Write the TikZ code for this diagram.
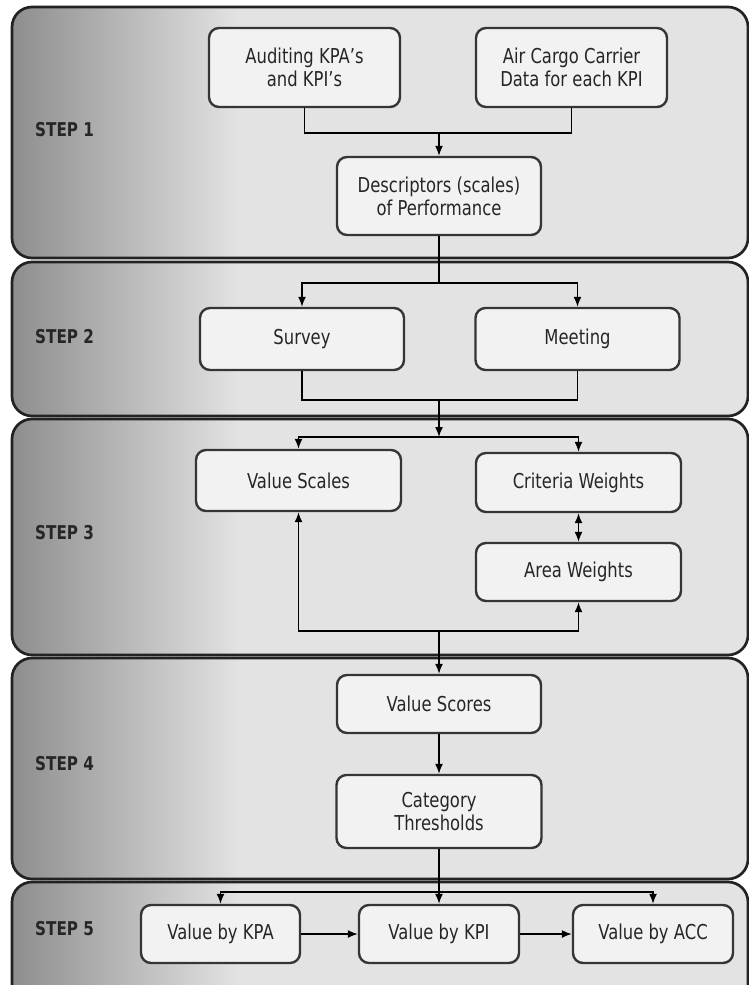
\documentclass[tikz,border=0pt]{standalone}
\usepackage{fontspec}
\setmainfont{DejaVu Sans}[FakeStretch=0.8]
\usetikzlibrary{arrows.meta}
\definecolor{bandfill}{HTML}{E3E3E3}
\definecolor{bandedge}{HTML}{8E8E8E}
\definecolor{boxfill}{HTML}{F2F2F2}
\definecolor{boxline}{HTML}{353535}
\definecolor{bandline}{HTML}{222222}
\definecolor{txt}{HTML}{262626}
\begin{document}
\begin{tikzpicture}[x=1pt,y=-1pt,
  stepbox/.style={draw=boxline, line width=2.4pt, fill=boxfill, rounded corners=10pt,
    align=center, text=txt, font=\fontsize{20.5}{23}\selectfont, inner sep=0pt},
  steplabel/.style={anchor=west, text=txt, font=\fontsize{19}{22}\selectfont\bfseries, inner sep=0pt},
  link/.style={line width=1.5pt, black},
  arr/.style={link, -{Latex[length=10pt,width=8pt]}},
  darr/.style={link, {Latex[length=10pt,width=8pt]}-{Latex[length=10pt,width=8pt]}}
]
\useasboundingbox (0,0) rectangle (749,985);
\clip (0,0) rectangle (749,985);

% horizontal step bands with a grey fade on their left side
\foreach \top/\bot in {7/258, 262/416, 419/655, 658/879, 882/1010}{
  \fill[bandfill, rounded corners=20pt] (12,\top) rectangle (748,\bot);
  \begin{scope}
    \clip[rounded corners=20pt] (12,\top) rectangle (748,\bot);
    \shade[left color=bandedge, right color=bandfill] (12,\top) rectangle (240,\bot);
  \end{scope}
  \draw[bandline, line width=2.7pt, rounded corners=20pt] (12,\top) rectangle (748,\bot);
}

% step labels
\node[steplabel] (s1) at (35,130) {STEP 1};
\node[steplabel] (s2) at (35,337) {STEP 2};
\node[steplabel] (s3) at (35,533) {STEP 3};
\node[steplabel] (s4) at (35,764) {STEP 4};
\node[steplabel] (s5) at (35,929) {STEP 5};

% step 1
\node[stepbox, minimum width=191pt, minimum height=79pt] (aud) at (304.5,67.5) {Auditing KPA’s\\and KPI’s};
\node[stepbox, minimum width=191pt, minimum height=79pt] (air) at (571.5,67.5) {Air Cargo Carrier\\Data for each KPI};
\node[stepbox, minimum width=204pt, minimum height=78pt] (desc) at (439,196) {Descriptors (scales)\\of Performance};

% step 2
\node[stepbox, minimum width=204pt, minimum height=62pt] (survey) at (302,339) {Survey};
\node[stepbox, minimum width=204pt, minimum height=62pt] (meeting) at (577.5,339) {Meeting};

% step 3
\node[stepbox, minimum width=205pt, minimum height=61pt] (vscales) at (298.5,480.5) {Value Scales};
\node[stepbox, minimum width=205pt, minimum height=59pt] (crit) at (578.5,482.5) {Criteria Weights};
\node[stepbox, minimum width=205pt, minimum height=58pt] (area) at (578.5,572) {Area Weights};

% step 4
\node[stepbox, minimum width=204pt, minimum height=58pt] (vscores) at (439,704) {Value Scores};
\node[stepbox, minimum width=205pt, minimum height=73pt] (cat) at (439,811.5) {Category\\Thresholds};

% step 5
\node[stepbox, minimum width=159pt, minimum height=58pt] (kpa) at (220.5,934) {Value by KPA};
\node[stepbox, minimum width=160pt, minimum height=58pt] (kpi) at (439,934) {Value by KPI};
\node[stepbox, minimum width=160pt, minimum height=58pt] (acc) at (653,934) {Value by ACC};

% junction points of the connectors
\coordinate (j1) at (439,133);
\coordinate (j2) at (439,283);
\coordinate (j3) at (439,400);
\coordinate (j4) at (439,437);
\coordinate (j5) at (439,631);
\coordinate (j6) at (439,892);

% connectors
\draw[link] (aud.south) |- (j1);
\draw[link] (air.south) |- (j1);
\draw[arr] (j1) -- (desc.north);

\draw[link] (desc.south) -- (j2);
\draw[arr] (j2) -| (survey.north);
\draw[arr] (j2) -| (meeting.north);

\draw[link] (survey.south) |- (j3);
\draw[link] (meeting.south) |- (j3);
\draw[arr] (j3) -- (j4);
\draw[arr] (j4) -| (vscales.north);
\draw[arr] (j4) -| (crit.north);

\draw[darr] (crit.south) -- (area.north);
\draw[arr] (j5) -| (vscales.south);
\draw[arr] (j5) -| (area.south);
\draw[arr] (j5) -- (vscores.north);

\draw[arr] (vscores.south) -- (cat.north);
\draw[link] (cat.south) -- (j6);
\draw[arr] (j6) -| (kpa.north);
\draw[arr] (j6) -- (kpi.north);
\draw[arr] (j6) -| (acc.north);
\draw[arr] (kpa) -- (kpi);
\draw[arr] (kpi) -- (acc);
\end{tikzpicture}
\end{document}
